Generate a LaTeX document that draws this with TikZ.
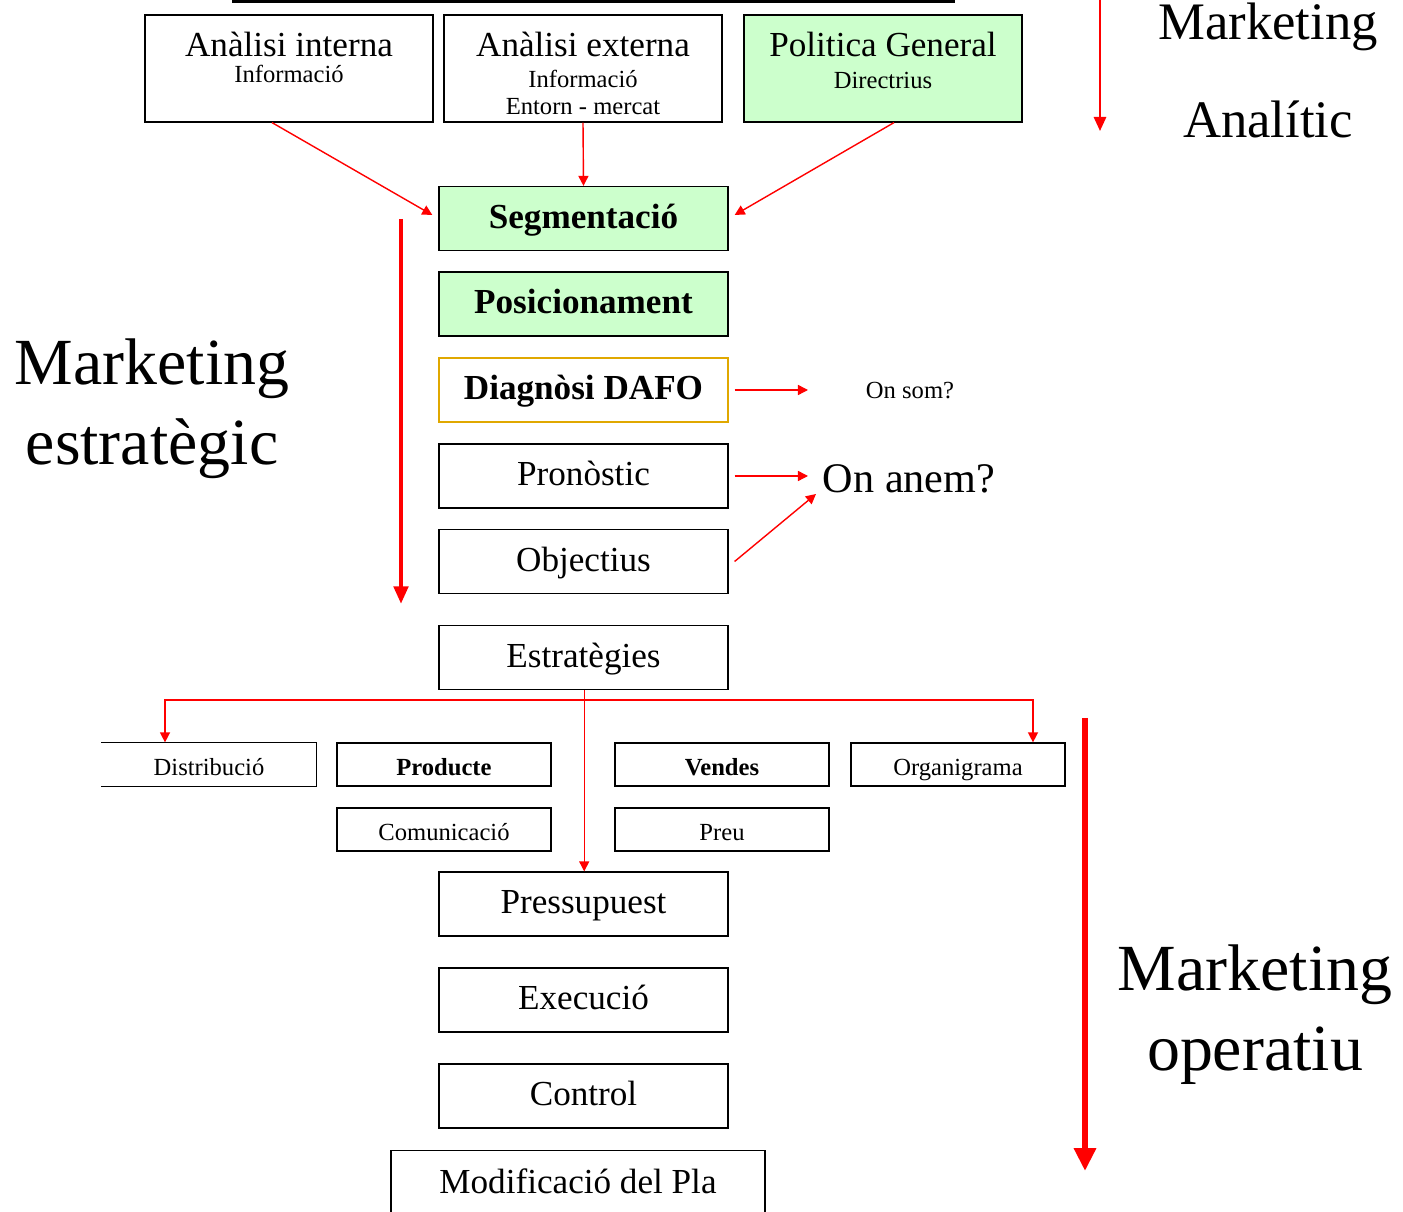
\documentclass[tikz,border=0pt]{standalone}
\usepackage{fontspec}
\setmainfont{Liberation Serif}
\usetikzlibrary{arrows.meta}
\definecolor{paleGreen}{HTML}{CCFFCC}
\definecolor{dafoGold}{HTML}{E0A800}
\newcommand{\fs}[1]{\fontsize{#1}{#1}\selectfont}

\begin{document}
\begin{tikzpicture}[x=0.02cm,y=-0.02cm,
  box/.style={draw,line width=0.7pt,inner sep=0pt,minimum width=5.78cm,minimum height=1.28cm,
    text height=15pt,text depth=3.8pt,font=\fs{20}},
  smallbox/.style={draw,line width=0.7pt,inner sep=0pt,minimum width=4.28cm,minimum height=0.86cm,
    text height=14pt,text depth=2pt,font=\fs{14}},
  topbox/.style={draw,line width=0.7pt,inner sep=0pt,minimum height=2.14cm},
  link/.style={red,line width=0.8pt,-{Triangle[length=5.7pt,width=5.7pt]}},
  title/.style={anchor=base}]
\useasboundingbox (0,0) rectangle (1403,1212);
\clip (0,0) rectangle (1403,1212);

% cut-off box above
\draw[line width=3.4pt] (232,0) -- (955,0);

% analysis boxes
\node[topbox,minimum width=5.76cm] (intern) at (289,68.5) {};
\node[anchor=base,font=\fs{20}] (internA) at (289,57) {Anàlisi interna};
\node[anchor=base,font=\fs{14}] (internB) at (289,83) {Informació};
\node[topbox,minimum width=5.56cm] (extern) at (583,68.5) {};
\node[anchor=base,font=\fs{20}] (externA) at (583,57) {Anàlisi externa};
\node[anchor=base,font=\fs{14}] (externB) at (583,88) {Informació};
\node[anchor=base,font=\fs{14}] (externC) at (583,115) {Entorn - mercat};
\node[topbox,minimum width=5.56cm,fill=paleGreen] (polit) at (883,68.5) {};
\node[anchor=base,font=\fs{20}] (politA) at (883,57) {Politica General};
\node[anchor=base,font=\fs{14}] (politB) at (883,89) {Directrius};

% strategic chain
\node[box,fill=paleGreen,font=\fs{20}\bfseries] (segm) at (583.5,218.5) {Segmentació};
\node[box,fill=paleGreen,font=\fs{20}\bfseries] (posic) at (583.5,304) {Posicionament};
\node[box,draw=dafoGold,font=\fs{20}\bfseries] (dafo) at (583.5,390) {Diagnòsi DAFO};
\node[box] (pronos) at (583.5,476) {Pronòstic};
\node[box] (object) at (583.5,561.5) {Objectius};
\node[box] (estrat) at (583.5,657.5) {Estratègies};

% marketing mix
\node[smallbox,draw=none] (distrib) at (209,764.5) {Distribució};
\draw[line width=0.7pt] (distrib.north west) -- (distrib.north east) -- (distrib.south east) -- (distrib.south west);
\node[smallbox,font=\fs{14}\bfseries] (product) at (444,764.5) {Producte};
\node[smallbox,font=\fs{14}\bfseries] (vendes) at (722,764.5) {Vendes};
\node[smallbox] (organi) at (958,764.5) {Organigrama};
\node[smallbox] (comunic) at (444,829.5) {Comunicació};
\node[smallbox] (preu) at (722,829.5) {Preu};

% operative chain
\node[box] (press) at (583.5,904) {Pressupuest};
\node[box] (exec) at (583.5,1000) {Execució};
\node[box] (control) at (583.5,1096) {Control};
\node[box,minimum width=7.48cm,minimum height=1.6cm,anchor=north] (modif) at (578,1150) {};
\node[font=\fs{20}] (modifT) at (578,1181) {Modificació del Pla};

% questions
\node[font=\fs{14}] (onsom) at (910,391) {On som?};
\node[font=\fs{24}] (onanem) at (909,479) {On anem?};
\coordinate (somTip) at (808,390);
\coordinate (anemTip) at (808,476);
\coordinate (anemTipB) at (816,494);

% titles
\node[title,font=\fs{30}] (anaA) at (1268,40) {Marketing};
\node[title,font=\fs{30}] (anaB) at (1268,138) {Analític};
\node[title,font=\fs{37.5}] (estA) at (152,385) {Marketing};
\node[title,font=\fs{37.5}] (estB) at (152,465) {estratègic};
\node[title,font=\fs{37.5}] (opeA) at (1255,990) {Marketing};
\node[title,font=\fs{37.5}] (opeB) at (1255,1070) {operatiu};

% connectors
\draw[link,shorten >=4pt] ([xshift=-0.34cm]intern.south) -- (segm.west);
\draw[link] (extern.south) -- (segm.north);
\draw[link,shorten >=4pt] ([xshift=0.22cm]polit.south) -- (segm.east);
\draw[link,shorten <=3.4pt] (dafo.east) -- (somTip);
\draw[link,shorten <=3.4pt] (pronos.east) -- (anemTip);
\draw[link] ([xshift=0.12cm]object.east) -- (anemTipB);

\coordinate (fork) at (584.2,700);
\draw[link] (fork |- estrat.south) -- (fork) -| ([xshift=-0.88cm]distrib.north);
\draw[link] (fork) -| ([xshift=1.5cm]organi.north);
\draw[link] (fork) -- (fork |- press.north);

% phase arrows
\coordinate (anaTop) at (1100,-10);
\coordinate (anaEnd) at (1100,131);
\coordinate (strTop) at (401,219);
\coordinate (strEnd) at (401,604);
\coordinate (opeTop) at (1085,718);
\coordinate (opeEnd) at (1085,1171);
\draw[red,line width=1.2pt,-{Triangle[length=8pt,width=7pt]}] (anaTop) -- (anaEnd);
\draw[red,line width=2.8pt,-{Triangle[length=10pt,width=8pt]}] (strTop) -- (strEnd);
\draw[red,line width=3.4pt,-{Triangle[length=13pt,width=12pt]}] (opeTop) -- (opeEnd);
\end{tikzpicture}
\end{document}
